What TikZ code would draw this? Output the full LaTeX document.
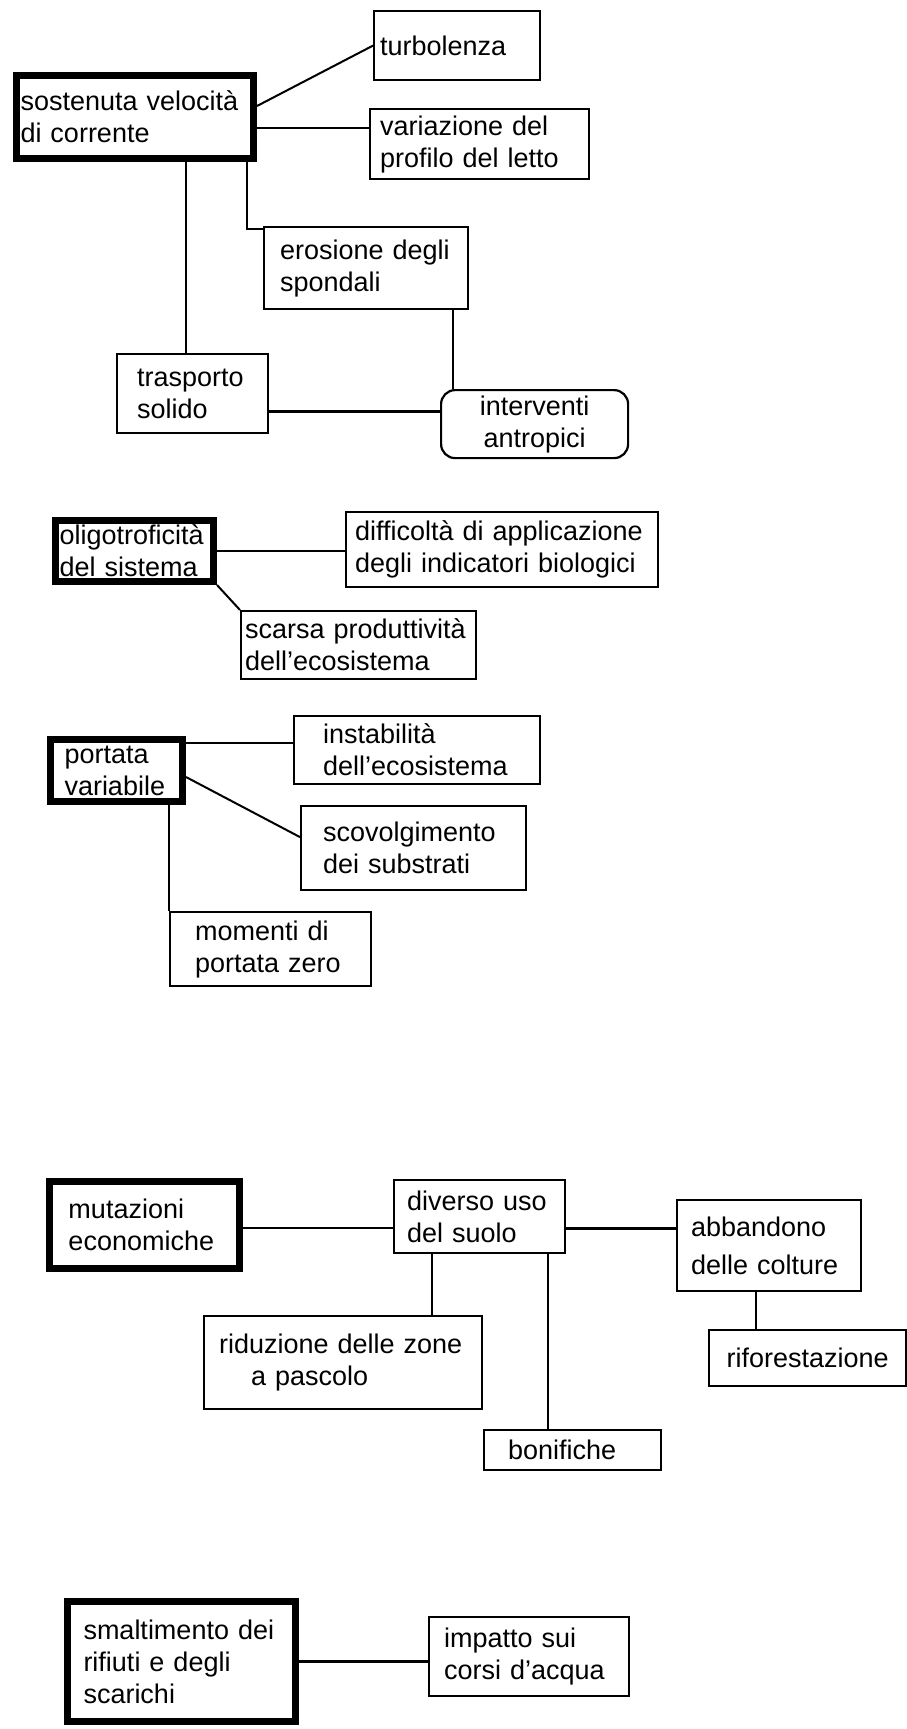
\documentclass[tikz,border=0pt]{standalone}
\usepackage{fontspec}
\setmainfont{Liberation Sans}

\begin{document}
\begin{tikzpicture}[x=0.5pt, y=-0.5pt,
  font=\fontsize{13.5}{16}\selectfont,
  box/.style={draw, line width=1.1pt, anchor=north west, align=left, inner ysep=0pt,
    execute at begin node={\hyphenpenalty=10000}},
  mbox/.style={box, line width=3.5pt},
  ln/.style={line width=1pt},
  bln/.style={line width=1.6pt}]
  \useasboundingbox (0,0) rectangle (906,1729);
  \node[mbox, inner xsep=2pt, text width=114.5pt, minimum height=41.5pt] (sost) at (13,72)
    {sostenuta velocità\\di corrente};
  \node[box, inner xsep=3pt, text width=77pt, minimum height=34.5pt] (turb) at (373,10) {turbolenza};
  \node[box, inner xsep=5pt, text width=99.5pt, minimum height=35pt] (var) at (369,108)
    {variazione del\\profilo del letto};
  \node[box, inner xsep=8pt, text width=86pt, minimum height=41pt] (eros) at (263,226)
    {erosione degli\\spondali};
  \node[box, inner xsep=10pt, text width=55.5pt, minimum height=39.5pt] (trasp) at (116,353)
    {trasporto\\solido};
  \node[box, align=center, rounded corners=7pt, minimum width=93.5pt, minimum height=34pt] (interv)
    at (440,389) {interventi\\antropici};
  \draw[ln] ([yshift=5.5pt]sost.east) -- (turb.west);
  \coordinate (sv) at ([yshift=-5.5pt]sost.east);
  \draw[ln] (sv) -- (sv -| var.west);
  \draw[ln] ([xshift=-5pt]sost.south east) |- ([yshift=-1.5pt]eros.north west);
  \coordinate (st) at ([xshift=-3.5pt]trasp.north);
  \draw[ln] (st) -- (st |- sost.south);
  \coordinate (ei) at ([xshift=-8pt]eros.south east);
  \draw[ln] (ei) -- (ei |- interv.north);
  \coordinate (ti) at ([yshift=-8.75pt]trasp.east);
  \draw[bln] (ti) -- (ti -| interv.west);

  \node[mbox, inner xsep=2pt, text width=75pt, minimum height=30.5pt] (oligo) at (52,517)
    {oligotroficità\\del sistema};
  \node[box, inner xsep=4.5pt, text width=147pt, minimum height=37.5pt] (diff) at (345,511)
    {difficoltà di applicazione\\degli indicatori biologici};
  \node[box, inner xsep=2pt, text width=113.5pt, minimum height=34pt] (scarsa) at (240,610)
    {scarsa produttività\\dell'ecosistema};
  \draw[ln] (oligo.east) -- (oligo.east -| diff.west);
  \draw[ln] (oligo.south east) -- (scarsa.north west);

  \node[mbox, inner xsep=7pt, text width=52pt, minimum height=31pt] (port) at (47,736)
    {portata\\variabile};
  \node[box, inner xsep=14.5pt, text width=94pt, minimum height=34pt] (instab) at (293,715)
    {instabilità\\dell'ecosistema};
  \node[box, inner xsep=11pt, text width=90.5pt, minimum height=42pt] (scov) at (300,805)
    {scovolgimento\\dei substrati};
  \node[box, inner xsep=12.5pt, text width=75.5pt, minimum height=37pt] (mom) at (169,911)
    {momenti di\\portata zero};
  \coordinate (pi) at ([yshift=13.75pt]port.east);
  \draw[ln] (pi) -- (pi -| instab.west);
  \draw[ln] ([yshift=-3.25pt]port.east) -- ([yshift=5.5pt]scov.west);
  \draw[ln] (mom.north west) -- (mom.north west |- port.south);

  \node[mbox, inner xsep=9.5pt, text width=76pt, minimum height=43.5pt] (mut) at (46,1178)
    {mutazioni\\economiche};
  \node[box, inner xsep=6.5pt, text width=72.5pt, minimum height=36.5pt] (uso) at (393,1179)
    {diverso uso\\del suolo};
  \node[box, inner xsep=7pt, text width=78pt, minimum height=45.5pt] (abb) at (676,1199)
    {abbandono\\[3pt]delle colture};
  \node[box, inner xsep=7.5pt, text width=124pt, minimum height=46.5pt] (rid) at (203,1315)
    {riduzione delle zone\\\hspace*{16pt}a pascolo};
  \node[box, inner xsep=12pt, text width=64.5pt, minimum height=20pt] (bon) at (483,1429) {bonifiche};
  \node[box, align=center, minimum width=98.5pt, minimum height=28pt] (rif) at (708,1329)
    {riforestazione};
  \coordinate (mu) at ([yshift=-1.5pt]mut.east);
  \draw[ln] (mu) -- (mu -| uso.west);
  \coordinate (ua) at ([yshift=-5.75pt]uso.east);
  \draw[bln] (ua) -- (ua -| abb.west);
  \coordinate (ur) at ([xshift=19.5pt]uso.south west);
  \draw[ln] (ur) -- (ur |- rid.north);
  \coordinate (ub) at ([xshift=-9pt]uso.south east);
  \draw[ln] (ub) -- (ub |- bon.north);
  \coordinate (ar) at ([xshift=40pt]abb.south west);
  \draw[ln] (ar) -- (ar |- rif.north);

  \node[mbox, inner xsep=8pt, text width=98pt, minimum height=60pt] (smalt) at (64,1598)
    {smaltimento dei\\rifiuti e degli\\scarichi};
  \node[box, inner xsep=7.5pt, text width=85pt, minimum height=39.5pt] (imp) at (428,1616)
    {impatto sui\\corsi d'acqua};
  \draw[bln] (smalt.east) -- (smalt.east -| imp.west);
\end{tikzpicture}
\end{document}
